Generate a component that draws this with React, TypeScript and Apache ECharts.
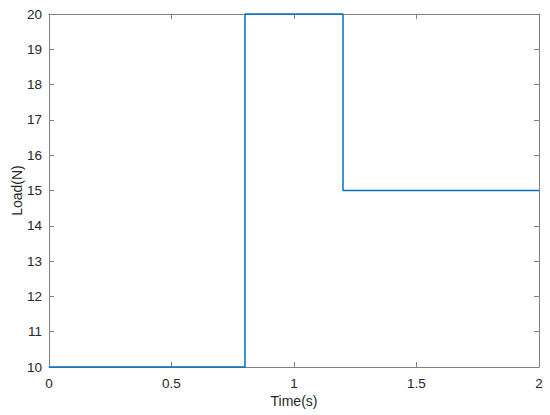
import React, { useEffect, useRef } from "react";
import * as echarts from "echarts";

const times = [0, 0.8, 1.2, 2];
const loads = [10, 20, 15, 15];
const xTicks = [0, 0.5, 1, 1.5, 2];
const yTicks = [10, 11, 12, 13, 14, 15, 16, 17, 18, 19, 20];

export default function App() {
  const ref = useRef<HTMLDivElement>(null);
  useEffect(() => {
    if (!ref.current) return;
    const chart = echarts.init(ref.current, undefined, { renderer: "svg" });
    const axisLine = { show: true, onZero: false, lineStyle: { color: "#808080", width: 1 } };
    const tickStyle = { show: true, inside: true, length: 5, lineStyle: { color: "#808080" } };
    const font = "'Liberation Sans', Arial, sans-serif";
    const fmt = (v: number) => String(v);
    chart.setOption({
      animation: false,
      backgroundColor: "#ffffff",
      grid: { left: 49, right: 11, top: 14, bottom: 48, containLabel: false, outerBoundsMode: "none" },
      xAxis: [
        {
          type: "value",
          min: xTicks[0],
          max: xTicks[xTicks.length - 1],
          interval: 0.5,
          position: "bottom",
          name: "Time(s)",
          nameLocation: "middle",
          nameGap: 27,
          nameMoveOverlap: false,
          nameTextStyle: { color: "#262626", fontSize: 14, fontFamily: font },
          axisLine,
          axisTick: tickStyle,
          axisLabel: { color: "#262626", fontSize: 13.5, fontFamily: font, margin: 9, formatter: fmt },
          splitLine: { show: false },
        },
        {
          type: "value",
          min: xTicks[0],
          max: xTicks[xTicks.length - 1],
          interval: 0.5,
          position: "top",
          axisLine,
          axisTick: tickStyle,
          axisLabel: { show: false },
          splitLine: { show: false },
        },
      ],
      yAxis: [
        {
          type: "value",
          min: yTicks[0],
          max: yTicks[yTicks.length - 1],
          interval: 1,
          position: "left",
          name: "Load(N)",
          nameLocation: "middle",
          nameGap: 25,
          nameMoveOverlap: false,
          nameTextStyle: { color: "#262626", fontSize: 14, fontFamily: font },
          axisLine,
          axisTick: tickStyle,
          axisLabel: { color: "#262626", fontSize: 13.5, fontFamily: font, margin: 7, formatter: fmt },
          splitLine: { show: false },
        },
        {
          type: "value",
          min: yTicks[0],
          max: yTicks[yTicks.length - 1],
          interval: 1,
          position: "right",
          axisLine,
          axisTick: tickStyle,
          axisLabel: { show: false },
          splitLine: { show: false },
        },
      ],
      series: [
        {
          type: "line",
          step: "end",
          xAxisIndex: 0,
          yAxisIndex: 0,
          data: times.map((t, i) => [t, loads[i]]),
          showSymbol: false,
          lineStyle: { color: "#0072BD", width: 1.5 },
          clip: false,
        },
      ],
    });
    return () => chart.dispose();
  }, []);
  return <div ref={ref} style={{ width: 550, height: 415, position: "absolute", left: 0, top: 0 }} />;
}
